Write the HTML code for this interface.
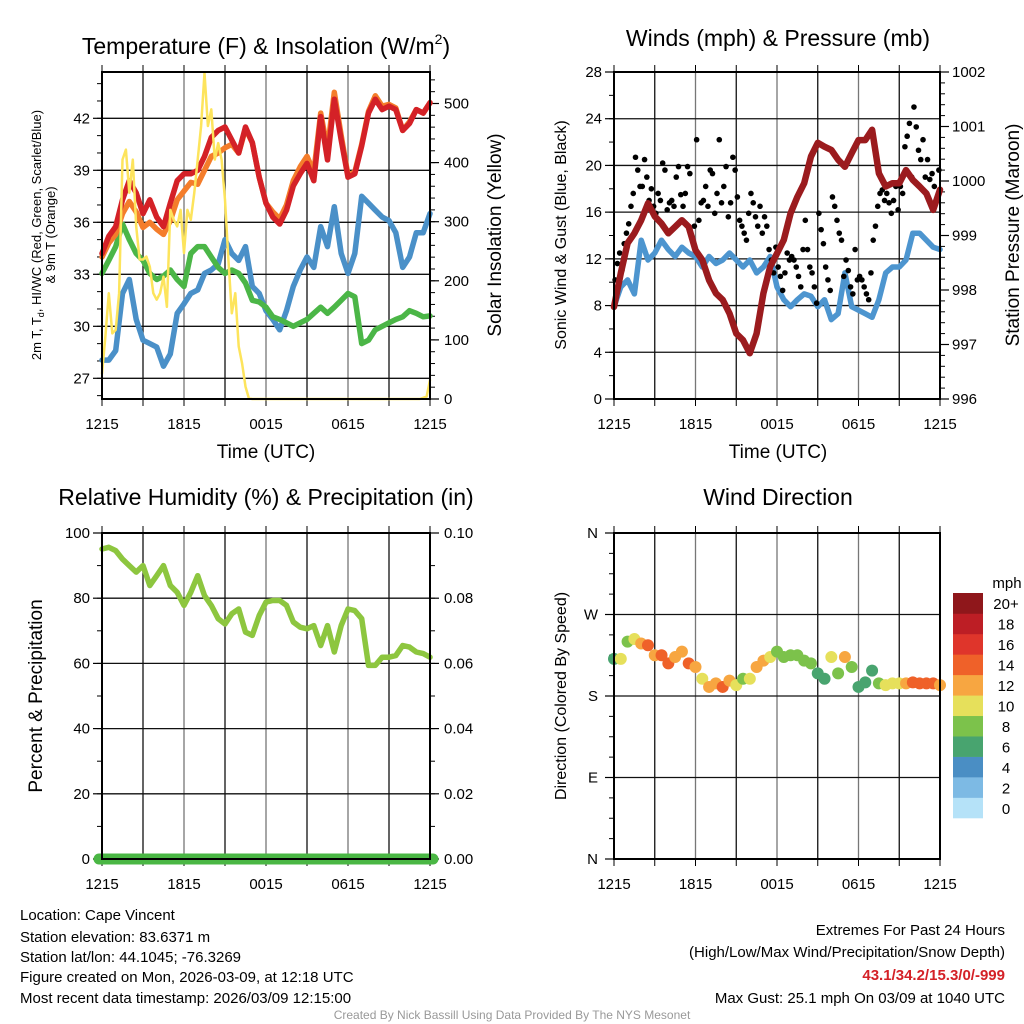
<!DOCTYPE html>
<html><head><meta charset="utf-8">
<style>
html,body{margin:0;padding:0;background:#fff;}
svg{display:block;font-family:"Liberation Sans",Arial,sans-serif;}
</style></head>
<body>
<svg id="chart" width="1024" height="1024" viewBox="0 0 1024 1024" xmlns="http://www.w3.org/2000/svg">
<g id="g1"></g>
<g id="g2"></g>
<g id="g3"></g>
<g id="g4"></g>

<text x="266" y="54" font-size="23" text-anchor="middle">Temperature (F) &amp; Insolation (W/m<tspan font-size="14" dy="-10">2</tspan><tspan dy="10">)</tspan></text>
<text x="778" y="46" font-size="23" text-anchor="middle">Winds (mph) &amp; Pressure (mb)</text>
<text x="266" y="505" font-size="23" text-anchor="middle">Relative Humidity (%) &amp; Precipitation (in)</text>
<text x="778" y="505" font-size="23" text-anchor="middle">Wind Direction</text>

<text x="266" y="458" font-size="19" text-anchor="middle">Time (UTC)</text>
<text x="778" y="458" font-size="19" text-anchor="middle">Time (UTC)</text>

<text font-size="13" text-anchor="middle" transform="translate(41,235) rotate(-90)">2m T, T<tspan font-size="9" dy="3">d</tspan><tspan dy="-3">, HI/WC (Red, Green, Scarlet/Blue)</tspan></text>
<text font-size="13" text-anchor="middle" transform="translate(55,235) rotate(-90)">&amp; 9m T (Orange)</text>
<text font-size="19" text-anchor="middle" transform="translate(501,235) rotate(-90)">Solar Insolation (Yellow)</text>
<text font-size="16" text-anchor="middle" transform="translate(566,235) rotate(-90)">Sonic Wind &amp; Gust (Blue, Black)</text>
<text font-size="19" text-anchor="middle" transform="translate(1019,235) rotate(-90)">Station Pressure (Maroon)</text>
<text font-size="19" text-anchor="middle" transform="translate(42,696) rotate(-90)">Percent &amp; Precipitation</text>
<text font-size="16" text-anchor="middle" transform="translate(566,696) rotate(-90)">Direction (Colored By Speed)</text>

<g font-size="15">
<text x="20" y="920">Location: Cape Vincent</text>
<text x="20" y="942">Station elevation: 83.6371 m</text>
<text x="20" y="962">Station lat/lon: 44.1045; -76.3269</text>
<text x="20" y="982">Figure created on Mon, 2026-03-09, at 12:18 UTC</text>
<text x="20" y="1003">Most recent data timestamp: 2026/03/09 12:15:00</text>
</g>
<g font-size="15" text-anchor="end">
<text x="1005" y="935">Extremes For Past 24 Hours</text>
<text x="1005" y="957">(High/Low/Max Wind/Precipitation/Snow Depth)</text>
<text x="1005" y="980" fill="#d42127" font-weight="bold">43.1/34.2/15.3/0/-999</text>
<text x="1005" y="1003">Max Gust: 25.1 mph On 03/09 at 1040 UTC</text>
</g>
<text x="512" y="1019" font-size="12" fill="#999" text-anchor="middle">Created By Nick Bassill Using Data Provided By The NYS Mesonet</text>
</svg>
<script>
const timeLabels = ["1215","1815","0015","0615","1215"];
const tempRed = [34.2,35.2,35.75,37.3,38.4,37.7,36.5,37.3,36.3,35.75,37.1,38.4,38.8,38.8,39.0,39.8,40.9,41.3,41.5,40.75,40.0,41.5,40.6,38.6,37.1,36.3,35.9,36.7,38.1,38.8,39.4,38.4,42.1,39.6,43.1,40.75,38.6,38.8,40.4,42.3,43.1,42.5,42.7,42.5,41.3,41.7,42.5,42.3,42.9];
const tempOrange = [34.0,34.8,35.3,36.5,37.2,36.6,35.7,36.0,35.6,35.3,36.1,37.3,37.8,38.3,38.2,39.0,39.8,40.0,40.3,40.5,40.0,41.4,40.6,38.6,37.1,36.6,36.2,37.0,38.4,39.2,39.8,38.9,42.3,40.2,43.5,41.0,38.7,38.9,40.5,42.4,43.3,42.7,42.8,42.6,41.3,41.8,42.5,42.3,42.9];
const dewGreen = [33.05,33.8,34.6,35.9,35.0,34.2,33.8,33.05,32.7,32.9,33.25,32.7,32.3,34.2,34.6,34.6,34.0,33.4,33.05,33.25,33.05,32.5,31.5,31.4,31.1,30.55,30.4,30.2,30.0,30.2,30.4,30.75,31.1,30.75,31.1,31.5,31.9,31.7,29.0,29.2,29.8,30.0,30.2,30.4,30.55,30.9,30.75,30.55,30.6];
const chillBlue = [28.05,28.05,28.6,31.9,32.7,30.4,29.2,29.0,28.8,27.7,28.4,30.75,31.3,31.9,32.1,33.05,33.25,33.6,35.0,34.2,33.8,34.6,32.3,31.9,30.9,30.4,29.8,30.9,32.3,33.25,34.0,33.4,35.75,34.6,36.9,34.2,33.05,34.2,37.5,37.1,36.7,36.3,36.1,35.4,33.4,34.0,35.4,35.4,36.5];
const solar = [43,106,179,111, 117,179,405,422, 349,405,292,236, 236,241,224,179, 168,179,207,156, 320,303,292,320, 247,320,303,349, 405,462,552,462, 490,405,433,405, 337,236,145,179, 89,60,21,1,
 0,0,0,0, 0,0,0,0, 0,0,0,0, 0,0,0,0, 0,0,0,0, 0,0,0,0, 0,0,0,0, 0,0,0,0, 0,0,0,0, 0,0,0,0, 0,0,0,0, 0,0,0,0,
 0,0,2,4, 32];
const tempTicks = [27,30,33,36,39,42];
const solarTicks = [0,100,200,300,400,500];

const windSpeed = [7.9,9.6,10.2,9.0,13.6,11.9,12.5,13.6,12.8,12.2,13.0,12.5,12.2,11.3,12.2,11.6,11.9,12.5,11.9,11.3,11.9,10.8,11.3,12.2,9.6,8.5,7.9,8.5,9.0,8.8,7.9,8.5,6.8,7.3,10.8,7.9,7.6,7.3,7.0,8.5,10.8,11.3,11.3,11.9,14.2,14.2,13.6,13.0,12.8];
const pressure = [997.69,998.31,998.86,999.04,999.28,999.59,999.35,999.22,999.04,999.16,999.28,999.16,998.73,998.55,998.18,997.94,997.82,997.57,997.2,997.08,996.84,997.2,997.94,998.43,998.67,998.92,999.41,999.71,999.96,1000.45,1000.7,1000.63,1000.57,1000.39,1000.26,1000.51,1000.75,1000.75,1000.94,1000.14,999.9,999.96,999.96,1000.2,1000.02,999.9,999.77,999.47,999.84];
const gust = [10.2,11.6,12.5,11.0,13.3,14.2, 15.0,16.5,17.6,20.7,19.6,18.2, 18.2,20.5,19.0,17.0,18.0,16.5, 15.9,17.6,17.0,20.2,19.6,16.2,
 16.8,17.0,16.5,19.0,19.9,17.5, 16.5,17.6,19.9,19.3,13.9,14.8, 22.2,15.3,16.8,17.0,18.2,16.5, 19.6,19.3,15.9,17.6,22.2,16.8,
 18.2,19.9,15.6,16.8,20.7,19.6, 17.3,15.3,14.8,14.2,13.6,15.9, 17.6,16.8,15.6,14.8,16.5,14.2, 15.6,14.8,12.8,11.9,10.8,13.0,
 11.3,10.5,9.3,10.8,12.5,11.9, 12.2,11.9,11.3,10.5,9.6,12.8, 15.3,12.8,11.3,10.8,9.6,8.2, 15.9,14.5,13.3,11.3,10.2,9.3,
 17.3,16.5,15.3,14.2,13.6,10.5, 11.9,11.0,9.6,9.0,12.8,10.2, 10.5,10.2,9.6,9.0,8.5,10.8, 13.6,14.8,16.5,17.6,17.9,17.0,
 17.6,16.8,15.9,17.0,18.2,16.2, 18.2,17.6,21.6,22.5,23.6,19.0, 25.0,23.3,21.3,20.5,22.2,19.0, 20.5,18.8,19.3,18.2,17.0,19.6];
const windTicks = [0,4,8,12,16,20,24,28];
const pressTicks = [996,997,998,999,1000,1001,1002];

const rh = [95.1,95.6,94.6,92.0,90.0,88.0,90.0,83.9,86.9,90.0,83.9,81.8,77.8,81.8,86.9,80.8,77.8,73.7,72.1,75.2,76.7,69.6,68.6,74.7,78.8,79.3,79.3,77.8,72.7,71.1,70.6,71.6,65.5,71.6,63.5,71.6,76.7,76.2,73.7,59.4,59.4,61.9,61.9,62.4,65.5,65.0,63.5,63.0,61.9];
const precip = [0,0,0,0,0,0,0,0,0,0,0,0,0,0,0,0,0,0,0,0,0,0,0,0,0,0,0,0,0,0,0,0,0,0,0,0,0,0,0,0,0,0,0,0,0,0,0,0,0];
const rhTicks = [0,20,40,60,80,100];
const precipTicks = ["0.00","0.02","0.04","0.06","0.08","0.10"];

const windDir = [221,221,240,243,238,236,225,225,216,223,229,216,212,199,190,194,190,197,192,199,199,212,219,223,229,223,225,225,219,216,205,199,223,205,223,212,190,195,208,194,192,194,194,194,195,194,194,194,192];
const dirSpeed = [7,10,8,10,13,15,13,15,15,13,13,15,13,11,13,13,15,13,11,9,11,12,13,11,9,8,9,9,9,8,7,7,10,8,13,9,7,7,7,9,11,11,11,13,15,15,15,15,13];
const dirTicks = [0,90,180,270,360];
const dirLabels = ["N","E","S","W","N"];
const cbarLabels = ["0","2","4","6","8","10","12","14","16","18","20+"];
const cbarColors = ["#b5e2f8","#7dbae4","#4a8ec4","#48a46f","#7cc24b","#e6e05b","#f7a641","#ef6129","#df352b","#bd1e25","#8f171b"];

const NS="http://www.w3.org/2000/svg";
function el(tag, attrs, parent){const e=document.createElementNS(NS,tag);for(const k in attrs)e.setAttribute(k,attrs[k]);parent.appendChild(e);return e;}
function lin(d0,d1,r0,r1){return v=>r0+(v-d0)/(d1-d0)*(r1-r0);}
function drawFrame(g,b,name){
  const xs=lin(0,24,b.x0,b.x1);
  for(let h=3;h<24;h+=3){
    const l=el('line',{x1:xs(h),x2:xs(h),y1:b.y0,y2:b.y1,stroke:(h%6===0)?'#777':'#111','stroke-width':1.3},g);
    
    
  }
  for(let h=0;h<=24;h+=3){
    el('line',{x1:xs(h),x2:xs(h),y1:b.y0-7,y2:b.y0,stroke:'#000','stroke-width':1},g);
    el('line',{x1:xs(h),x2:xs(h),y1:b.y1,y2:b.y1+7,stroke:'#000','stroke-width':1},g);
  }
  timeLabels.forEach((t,i)=>{
    const tx=el('text',{x:xs(i*6),y:b.y1+30,'font-size':15,'text-anchor':'middle'},g);
    tx.textContent=t;
    
    
  });
  return xs;
}
function yAxis(g,b,ys,ticks,labels,minorStep,minorFrom,minorTo,side,grid,lab){
  const x=side==='L'?b.x0:b.x1, d=side==='L'?-1:1;
  for(let v=minorFrom;v<=minorTo+1e-9;v+=minorStep) el('line',{x1:x,x2:x+d*5,y1:ys(v),y2:ys(v),stroke:'#000','stroke-width':1},g);
  ticks.forEach((v,i)=>{
    const y=ys(v);
    el('line',{x1:x,x2:x+d*9,y1:y,y2:y,stroke:'#000','stroke-width':1.2},g);
    if(grid && y>b.y0+1 && y<b.y1-1){
      const gl=el('line',{x1:b.x0,x2:b.x1,y1:y,y2:y,stroke:'#111','stroke-width':1.3},g);
      
      
    }
    const t=el('text',{x:x+d*(lab||12),y:y+5,'font-size':15,'text-anchor':side==='L'?'end':'start'},g);
    t.textContent=labels[i];
    
    
  });
}
function path(g,xs,ys,vals,step,color,w,name){
  const d=vals.map((v,i)=>(i?'L':'M')+xs(i*step).toFixed(1)+','+ys(v).toFixed(1)).join('');
  const p=el('path',{d:d,fill:'none',stroke:color,'stroke-width':w,'stroke-linejoin':'round','stroke-linecap':'round'},g);
  
  
  return p;
}
function box(g,b){const r=el('rect',{x:b.x0,y:b.y0,width:b.x1-b.x0,height:b.y1-b.y0,fill:'none',stroke:'#000','stroke-width':2},g);}

(function(){
  const g=document.getElementById('g1');
  const b={x0:102,x1:430,y0:72,y1:399};
  const xs=drawFrame(g,b,'temp');
  const yT=lin(27,42,378.3,118.3);
  const yS=lin(0,500,399,103.5);
  yAxis(g,b,yT,tempTicks,tempTicks.map(String),1,26,44,'L',true);
  yAxis(g,b,yS,solarTicks,solarTicks.map(String),20,0,540,'R',false,14);
  path(g,xs,yT,chillBlue,0.5,'#4a90c8',5.5,'heat-index-wind-chill-line');
  path(g,xs,yT,dewGreen,0.5,'#4bb647',5.5,'dewpoint-line');
  path(g,xs,yT,tempOrange,0.5,'#f47d2b',5.5,'temp-9m-line');
  path(g,xs,yT,tempRed,0.5,'#d42127',5.5,'temp-2m-line');
  path(g,xs,yS,solar,0.25,'#fde45c',2.5,'solar-insolation-line');
  box(g,b);
})();

(function(){
  const g=document.getElementById('g2');
  const b={x0:614,x1:940,y0:72,y1:399};
  const xs=drawFrame(g,b,'wind');
  const yW=lin(0,28,399,72);
  const yP=lin(996,1002,399,72);
  yAxis(g,b,yW,windTicks,windTicks.map(String),2,0,28,'L',true);
  yAxis(g,b,yP,pressTicks,pressTicks.map(String),0.2,996,1002,'R',false);
  path(g,xs,yW,windSpeed,0.5,'#4d95cf',5.5,'sonic-wind-line');
  gust.forEach((v,i)=>{
    const c=el('circle',{cx:xs(i/6+1/12),cy:yW(v),r:2.8,fill:'#000'},g);
    
    
  });
  path(g,xs,yP,pressure,0.5,'#9b1b1e',6.5,'pressure-line');
  box(g,b);
})();

(function(){
  const g=document.getElementById('g3');
  const b={x0:102,x1:430,y0:533,y1:859};
  const xs=drawFrame(g,b,'rh');
  const yR=lin(0,100,859,533);
  const yPr=lin(0,0.1,859,533);
  yAxis(g,b,yR,rhTicks,rhTicks.map(String),10,0,100,'L',true);
  yAxis(g,b,yPr,precipTicks.map(Number),precipTicks,0.01,0,0.1,'R',false,14);
  path(g,xs,yR,rh,0.5,'#8dc63f',5.5,'relative-humidity-line');
  const xp=lin(0,24,b.x0-3,b.x1+3);
  path(g,xp,yPr,precip,0.5,'#4ab744',11,'precipitation-line');
  box(g,b);
})();

(function(){
  const g=document.getElementById('g4');
  const b={x0:614,x1:940,y0:533,y1:859};
  const xs=drawFrame(g,b,'dir');
  const yD=lin(0,360,859,533);
  yAxis(g,b,yD,dirTicks,dirLabels,22.5,0,360,'L',true,16);
  windDir.forEach((v,i)=>{
    const k=Math.min(10,Math.floor(dirSpeed[i]/2));
    const c=el('circle',{cx:xs(i*0.5),cy:yD(v),r:6,fill:cbarColors[k]},g);
    
    
  });
  box(g,b);
  const cb=el('g',{},g);
  
  
  const h=225/11;
  cbarColors.forEach((c,i)=>{
    const y=818-(i+1)*h;
    el('rect',{x:953,y:y,width:30,height:h+0.3,fill:c},cb);
    const t=el('text',{x:1006,y:y+h/2+6,'font-size':15,'text-anchor':'middle'},cb);
    t.textContent=cbarLabels[i];
    
    
  });
  const u=el('text',{x:1007,y:588,'font-size':15,'text-anchor':'middle'},cb);
  u.textContent='mph';
  
  
})();
</script>
</body></html>
